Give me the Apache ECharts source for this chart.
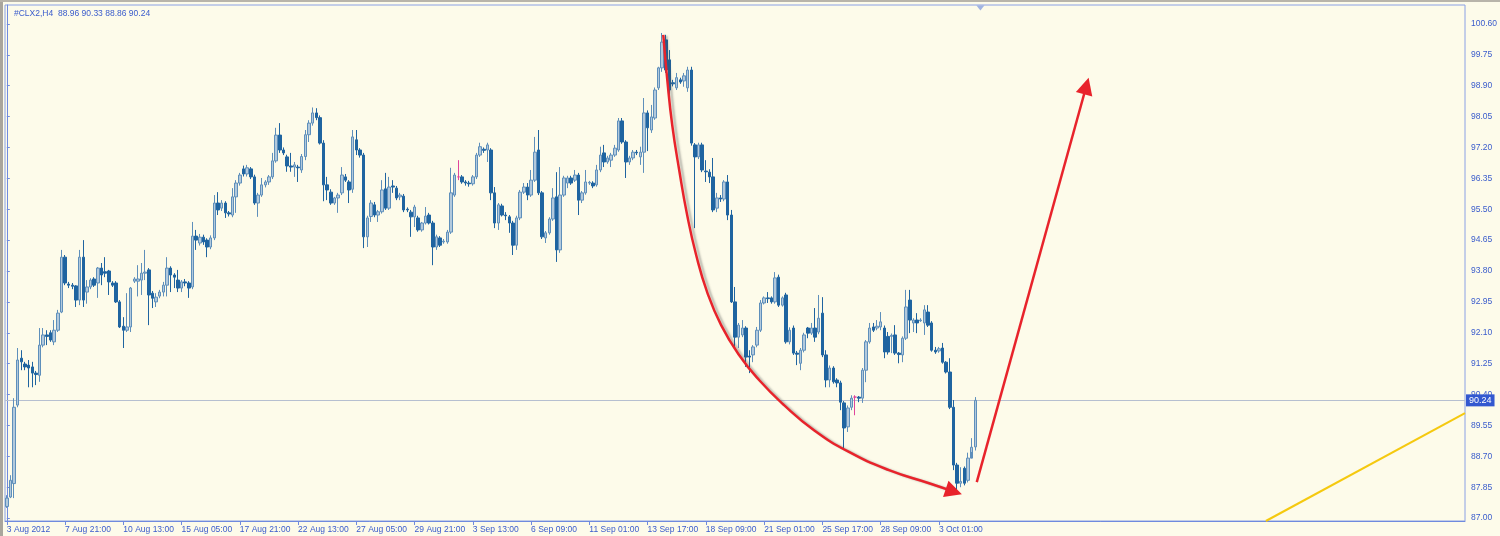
<!DOCTYPE html>
<html><head><meta charset="utf-8">
<script src="https://cdn.jsdelivr.net/npm/echarts@6/dist/echarts.min.js"></script>
<style>html,body{margin:0;padding:0;background:#fdfbea}#c{width:1500px;height:536px}</style>
</head><body><div id="c"></div>
<script>
const symbolName = '#CLX2,H4';
// [open, close, low, high]
const candles = [
[87.32,87.55,87.28,87.63],[87.58,88.04,87.55,88.18],[87.95,90.05,87.55,90.30],[90.11,91.35,90.05,91.68],[91.40,91.30,91.07,91.62],
[91.24,91.16,91.07,91.30],[91.21,91.13,90.60,91.35],[91.16,90.99,90.60,91.30],[90.99,90.95,90.66,91.05],[90.93,91.76,90.75,92.23],
[91.76,92.04,91.70,92.23],[92.04,92.00,91.76,92.17],[92.10,91.90,91.85,92.17],[91.85,92.17,91.76,92.45],[92.17,92.64,92.12,92.73],
[92.67,94.18,92.64,94.38],[94.18,93.47,93.41,94.24],[93.44,93.41,93.33,93.50],[93.41,93.38,93.30,93.47],[93.39,93.00,92.81,93.41],
[93.00,94.18,92.86,94.38],[94.18,93.00,92.81,94.65],[93.22,93.36,92.90,93.55],[93.36,93.55,93.30,93.60],[93.58,93.41,93.36,93.63],
[93.47,93.88,93.06,93.91],[93.88,93.69,93.41,94.02],[93.78,93.74,93.63,94.18],[93.80,93.50,93.14,93.83],[93.47,93.41,93.36,93.52],
[93.47,92.95,92.92,93.52],[92.95,92.26,92.23,93.00],[92.28,92.17,91.68,92.53],[92.17,92.26,92.12,93.19],[92.26,93.33,92.12,93.36],
[93.52,93.58,93.47,93.63],[93.52,93.58,93.10,93.96],[93.55,93.74,93.14,94.02],[93.74,93.77,93.55,94.38],[93.83,93.14,92.31,93.88],
[93.19,93.05,92.78,93.25],[92.95,93.08,92.81,93.19],[93.11,93.22,93.05,93.28],[93.22,93.41,93.10,93.50],[93.41,93.88,93.10,94.18],
[93.88,93.69,93.22,93.93],[93.69,93.63,93.33,93.74],[93.55,93.33,93.22,93.83],[93.33,93.50,93.22,93.55],[93.50,93.47,93.38,93.58],
[93.47,93.33,93.06,93.52],[93.36,94.76,93.30,95.15],[94.76,94.65,94.38,94.93],[94.57,94.73,94.50,94.82],[94.73,94.60,94.52,94.80],
[94.65,94.46,94.18,94.70],[94.46,94.71,94.40,94.78],[94.71,95.67,94.65,95.89],[95.67,95.48,95.34,95.97],[95.53,95.67,95.45,95.75],
[95.67,95.40,95.26,95.72],[95.40,95.37,95.30,95.45],[95.34,95.84,95.28,96.08],[95.84,96.22,95.40,96.30],[96.22,96.44,96.15,96.50],
[96.61,96.47,96.40,96.70],[96.47,96.64,96.40,96.72],[96.61,96.39,96.33,96.66],[96.39,95.67,95.62,96.45],[95.67,95.89,95.29,95.95],
[95.89,96.17,95.84,96.36],[96.17,96.25,96.10,96.30],[96.25,96.39,96.17,96.44],[96.39,96.83,96.33,97.05],[96.83,97.54,96.78,97.74],
[97.54,97.13,97.05,97.87],[97.13,97.05,96.99,97.20],[96.94,96.69,96.53,97.00],[96.69,96.66,96.53,97.05],[96.66,96.72,96.39,96.80],
[96.66,96.64,96.25,96.72],[96.58,96.95,96.50,97.02],[96.95,97.55,96.85,97.68],[97.55,97.87,97.35,97.95],[97.87,98.15,97.80,98.30],
[98.15,98.02,97.95,98.28],[98.02,97.32,97.28,98.08],[97.32,96.17,95.72,97.40],[96.17,96.03,95.75,96.39],[95.97,95.67,95.62,96.05],
[95.67,95.81,95.62,95.84],[95.81,95.89,95.40,95.95],[95.95,96.44,95.89,96.66],[96.39,96.30,96.25,96.47],[96.25,96.03,95.67,96.30],
[96.05,97.49,95.95,97.68],[97.41,97.13,96.99,97.68],[97.13,96.99,96.92,97.18],[96.99,94.74,94.43,97.05],[94.74,95.26,94.46,95.32],
[95.30,95.67,95.15,95.75],[95.62,95.34,95.28,95.70],[95.34,95.43,95.15,95.48],[95.43,96.03,95.38,96.30],[96.06,95.53,95.48,96.50],
[95.53,96.11,95.48,96.39],[96.14,96.11,95.95,96.30],[96.08,95.81,95.75,96.14],[95.84,95.89,95.75,95.95],[95.86,95.48,95.42,95.92],
[95.50,95.48,95.42,95.55],[95.42,95.29,94.74,95.48],[95.29,95.56,95.01,95.62],[95.26,94.93,94.88,95.32],[94.93,95.12,94.88,95.15],
[95.12,95.31,95.08,95.56],[95.34,95.12,95.08,95.40],[95.12,94.46,93.96,95.18],[94.46,94.74,94.38,94.80],[94.71,94.51,94.46,94.76],
[94.60,94.62,94.55,94.68],[94.60,94.87,94.55,94.93],[94.87,95.95,94.82,96.64],[95.89,96.44,95.84,96.50],[96.39,96.39,96.30,96.85],
[96.39,96.25,96.20,96.44],[96.25,96.22,96.15,96.30],[96.22,96.20,96.12,96.28],[96.20,96.39,96.15,96.44],[96.39,96.99,96.33,97.05],
[96.99,97.22,96.94,97.33],[97.15,97.12,97.05,97.20],[97.13,97.27,96.80,97.33],[97.13,95.95,95.75,97.18],[95.95,95.12,94.98,96.11],
[95.12,95.62,94.93,95.67],[95.59,95.34,95.30,95.65],[95.34,95.32,95.20,95.42],[95.29,95.12,94.85,95.34],[95.12,94.51,94.24,95.18],
[94.51,95.26,94.38,95.32],[95.26,95.97,95.20,96.03],[95.97,96.11,95.92,96.22],[96.11,95.89,95.75,96.22],[95.89,96.30,95.84,96.58],
[96.30,97.07,96.25,97.49],[97.13,95.95,95.89,97.68],[95.95,94.74,94.68,96.00],[94.71,94.85,94.57,94.90],[94.85,95.23,94.80,95.28],
[95.23,95.81,95.18,96.08],[95.84,94.38,94.05,96.52],[94.38,95.89,94.30,96.66],[95.89,96.36,95.84,96.42],[96.22,96.36,96.08,96.42],
[96.36,96.22,96.17,96.42],[96.30,96.44,96.25,96.58],[96.44,95.75,95.34,96.50],[95.75,95.95,95.67,96.00],[95.95,96.25,95.90,96.58],
[96.22,96.24,96.17,96.28],[96.22,96.14,96.08,96.27],[96.17,96.58,96.12,96.72],[96.58,96.99,96.52,97.22],[97.05,96.80,96.66,97.27],
[96.80,96.91,96.75,96.97],[96.85,96.99,96.66,97.05],[96.99,97.18,96.94,97.27],[97.13,97.93,97.08,98.01],[97.93,97.35,97.30,98.01],
[97.35,96.80,96.36,97.40],[96.80,96.91,96.72,96.97],[96.91,97.07,96.85,97.13],[97.07,97.05,96.99,97.13],[96.94,97.07,96.72,97.22],
[97.07,98.15,96.50,98.56],[98.15,97.74,97.10,98.22],[97.68,98.04,97.60,98.37],[98.01,98.78,97.96,98.85],[98.84,99.39,98.78,99.42],
[99.39,100.10,99.28,100.35],[100.16,99.33,99.25,100.30],[99.61,98.78,98.43,99.88],[98.98,98.95,98.88,99.06],[98.84,99.12,98.78,99.25],
[99.06,99.00,98.95,99.12],[99.03,99.17,98.87,99.25],[98.84,99.33,98.73,99.42],[99.33,97.32,97.25,99.42],[97.27,96.94,94.98,97.32],
[96.94,97.27,96.88,97.33],[97.27,96.58,96.52,97.33],[96.55,96.53,96.25,96.85],[96.52,96.39,96.22,96.60],[96.39,95.48,95.42,96.91],
[95.53,95.81,95.42,95.95],[95.81,95.78,95.70,95.89],[95.78,96.25,95.72,96.30],[96.25,95.34,95.20,96.44],[95.34,92.95,92.92,95.48],
[92.95,91.98,91.68,93.36],[91.98,92.31,91.68,92.37],[92.04,92.23,91.98,92.45],[92.23,91.43,91.16,92.28],[91.46,91.43,90.99,91.62],
[91.49,91.71,91.29,91.76],[91.76,92.17,91.70,92.26],[92.17,92.92,92.12,93.00],[92.92,93.06,92.88,93.10],[93.06,93.04,92.92,93.22],
[93.06,92.95,92.90,93.10],[92.95,93.61,92.90,93.77],[93.63,92.86,92.81,93.70],[92.86,93.06,92.82,93.10],[93.14,91.85,91.80,93.20],
[91.85,92.17,91.78,92.25],[92.23,91.54,91.49,92.30],[91.54,91.51,91.21,91.60],[91.26,91.62,91.07,91.68],[91.62,92.04,91.56,92.10],
[92.23,92.09,91.95,92.26],[92.09,92.23,92.04,92.37],[92.23,91.98,91.85,92.78],[92.12,92.50,92.06,93.14],[92.64,91.49,91.43,93.08],
[91.49,90.80,90.60,91.62],[90.80,91.13,90.60,91.20],[91.13,90.75,90.70,91.18],[90.80,90.72,90.60,90.85],[90.72,90.19,89.97,90.78],
[90.17,89.48,88.93,90.22],[89.51,90.03,89.37,90.10],[90.05,90.30,89.97,90.38],[90.33,90.33,89.83,90.38],[90.33,90.30,90.19,90.36],
[90.30,91.07,90.17,91.13],[91.07,91.85,90.74,91.90],[91.85,92.23,91.80,92.37],[92.26,92.17,92.12,92.37],[92.23,92.28,92.17,92.45],
[92.26,92.40,92.17,92.67],[92.23,91.57,91.40,92.30],[92.00,91.57,91.50,92.12],[92.00,92.03,91.54,92.08],[92.04,91.54,91.49,92.31],
[91.54,91.50,91.26,91.57],[91.49,91.95,91.29,92.00],[91.95,92.81,91.90,93.28],[93.00,92.45,92.09,93.28],[92.37,92.45,92.12,92.50],
[92.45,92.37,92.09,92.64],[92.43,92.45,92.40,92.50],[92.37,92.73,92.04,92.86],[92.67,92.31,92.26,92.86],[92.37,91.62,91.58,92.42],
[91.62,91.57,91.52,91.71],[91.60,91.66,91.55,91.71],[91.68,91.29,91.25,91.82],[91.29,91.02,90.98,91.32],[91.02,90.05,90.00,91.40],
[90.05,88.46,88.32,90.25],[88.46,87.96,87.77,88.52],[87.96,88.01,87.85,88.40],[88.37,87.96,87.90,88.42],[88.04,88.65,87.98,88.80],
[88.65,88.95,88.82,89.20],[88.96,90.24,88.86,90.33]
];
const dojiBars = [124, 233];
const xTickLabels = ['3 Aug 2012','7 Aug 21:00','10 Aug 13:00','15 Aug 05:00','17 Aug 21:00','22 Aug 13:00','27 Aug 05:00','29 Aug 21:00','3 Sep 13:00','6 Sep 09:00','11 Sep 01:00','13 Sep 17:00','18 Sep 09:00','21 Sep 01:00','25 Sep 17:00','28 Sep 09:00','3 Oct 01:00'];
const xTickStep = 16;
const slotCount = 401;
const yTickValues = [87.00,87.85,88.70,89.55,90.40,91.25,92.10,92.95,93.80,94.65,95.50,96.35,97.20,98.05,98.90,99.75,100.60];
const yMin = 86.92, yMax = 101.12;
// annotations in [bar index, price]
const curveArrow = [[180.3,100.30],[181.4,99.06],[182.75,97.82],[184.67,96.58],[186.86,95.34],[189.33,94.24],[192.35,93.22],[196.19,92.31],[201.12,91.49],[206.61,90.80],[213.47,90.11],[221.7,89.42],[231.3,88.82],[242.3,88.32],[253.3,87.96],[260.1,87.73]];
const upArrow = [[266.4,87.99],[296.5,98.89]];
const trendLine = [[345.8,86.92],[400.5,89.89]];
const shiftMarker = [[267.4,101.12]];

const last = candles[candles.length-1];
const lastClose = last[1];
const titleText = symbolName + '  ' + [last[0], last[3], last[2], last[1]].map(v => v.toFixed(2)).join(' ');
const cats = Array.from({length: slotCount}, (_, i) => String(i));
const magenta = '#e0449c';
const seriesData = candles.map((c, i) => dojiBars.includes(i)
  ? {value: c, itemStyle: {color: magenta, color0: magenta, borderColor: magenta, borderColor0: magenta}}
  : c);
const font = 'Liberation Sans';
const txt = '#3a5ccc';
const axisCol = '#6f8ade';
const red = '#e8232b';
const showTick = (i) => i % xTickStep === 0 && i / xTickStep < xTickLabels.length;
const n = curveArrow.length;

const chart = echarts.init(document.getElementById('c'), null, {renderer: 'canvas'});
chart.setOption({
  animation: false,
  backgroundColor: '#fdfbea',
  title: {text: titleText, left: 9, top: 4, textStyle: {fontSize: 8.5, fontWeight: 'normal', color: txt, fontFamily: font}},
  graphic: [
    {type: 'rect', shape: {x: 0, y: 0, width: 3, height: 536}, style: {fill: '#a9a59c'}, z: 100},
    {type: 'rect', shape: {x: 0, y: 0, width: 1500, height: 2}, style: {fill: '#b8b4aa'}, z: 100}
  ],
  grid: {left: 5, right: 33, top: 5, bottom: 15, show: true, borderColor: '#8aa0e4', borderWidth: 1, backgroundColor: 'transparent'},
  xAxis: [
    {type: 'category', data: cats, boundaryGap: true,
     axisLine: {lineStyle: {color: axisCol}},
     axisTick: {show: true, alignWithLabel: true, interval: showTick, length: 4, lineStyle: {color: axisCol}},
     axisLabel: {interval: showTick, formatter: (v, i) => xTickLabels[i / xTickStep] || '', align: 'left', margin: 4, fontSize: 8.5, color: txt, fontFamily: font},
     splitLine: {show: false}},
    {type: 'value', min: -0.5, max: slotCount - 0.5, show: false}
  ],
  yAxis: {type: 'value', position: 'right', min: yMin, max: yMax, scale: true,
    axisLine: {show: true, lineStyle: {color: axisCol}},
    axisTick: {show: true, length: 3, customValues: yTickValues, lineStyle: {color: axisCol}},
    axisLabel: {customValues: yTickValues, formatter: v => Number(v).toFixed(2), margin: 6, fontSize: 8.5, color: txt, fontFamily: font},
    splitLine: {show: false}},
  series: [
    {type: 'candlestick', xAxisIndex: 0, yAxisIndex: 0, data: seriesData, barWidth: 3, z: 3,
     itemStyle: {color: '#b2c9dc', color0: '#1f64a0', borderColor: '#5e8fbb', borderColor0: '#1f64a0', borderWidth: 1},
     markLine: {silent: true, symbol: 'none', animation: false, z: 1,
       data: [{yAxis: lastClose}],
       lineStyle: {color: '#b6bfd0', width: 1, type: 'solid'},
       label: {show: true, position: 'end', formatter: () => lastClose.toFixed(2), color: '#ffffff', backgroundColor: '#3358d0', padding: [2, 3, 1, 3], fontSize: 9, fontFamily: font, distance: 1}}},
    {type: 'line', xAxisIndex: 1, yAxisIndex: 0, data: curveArrow, smooth: 0.5, showSymbol: false, symbol: 'none', silent: true, z: 5, clip: false,
     lineStyle: {color: red, width: 2.5, opacity: 1, shadowColor: 'rgba(70,70,70,0.35)', shadowBlur: 2, shadowOffsetX: 3, shadowOffsetY: 1}},
    {type: 'lines', coordinateSystem: 'cartesian2d', xAxisIndex: 1, yAxisIndex: 0, silent: true, z: 6,
     symbol: ['none', 'triangle'], symbolSize: [11, 17],
     data: [{coords: [curveArrow[n - 2], curveArrow[n - 1]], lineStyle: {width: 0.1}}, {coords: upArrow}],
     lineStyle: {color: red, width: 2.5, opacity: 1}},
    {type: 'lines', coordinateSystem: 'cartesian2d', xAxisIndex: 1, yAxisIndex: 0, silent: true, z: 4,
     data: [{coords: trendLine}],
     lineStyle: {color: '#f5c90f', width: 2, opacity: 1}},
    {type: 'scatter', xAxisIndex: 1, yAxisIndex: 0, data: shiftMarker, symbol: 'triangle', symbolRotate: 180, symbolSize: [8, 5], symbolOffset: [0, 3], silent: true, z: 7,
     itemStyle: {color: '#8aa2e0'}}
  ]
});
</script>
</body></html>
